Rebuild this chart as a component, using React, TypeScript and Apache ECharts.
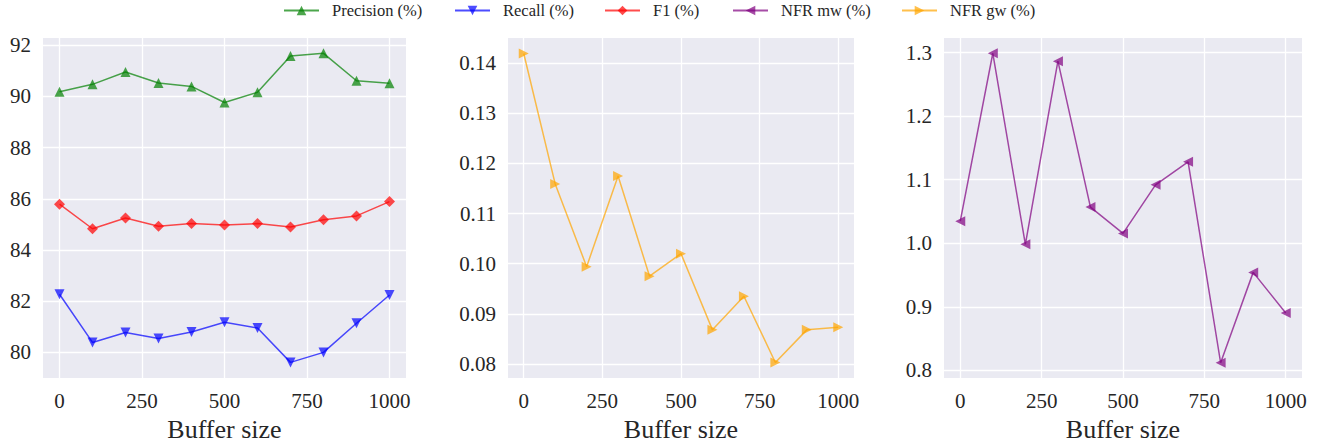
import React, { useEffect, useRef } from "react";
import * as echarts from "echarts";

const bufferSizes = [0, 100, 200, 300, 400, 500, 600, 700, 800, 900, 1000];
const precision = [90.18, 90.47, 90.95, 90.52, 90.39, 89.76, 90.16, 91.58, 91.68, 90.61, 90.51];
const recall = [82.27, 80.39, 80.78, 80.54, 80.8, 81.18, 80.95, 79.61, 80.0, 81.14, 82.24];
const f1 = [85.79, 84.83, 85.25, 84.93, 85.03, 84.98, 85.03, 84.9, 85.18, 85.33, 85.89];
const nfrGw = [0.1419, 0.1159, 0.0994, 0.1175, 0.0975, 0.102, 0.0868, 0.0935, 0.0803, 0.0868, 0.0873];
const nfrMw = [1.0347, 1.299, 0.9983, 1.2865, 1.057, 1.0155, 1.0919, 1.1281, 0.812, 0.9542, 0.8903];

const xTicks = [0, 250, 500, 750, 1000];
const yTicks1 = [80, 82, 84, 86, 88, 90, 92];
const yTicks2 = [0.08, 0.09, 0.1, 0.11, 0.12, 0.13, 0.14];
const yTicks3 = [0.8, 0.9, 1.0, 1.1, 1.2, 1.3];

const FONT = "Liberation Serif";
const TXT = "#262626";

const SYM_UP = "path://M0,10L5,0L10,10Z";
const SYM_DOWN = "path://M0,0L10,0L5,10Z";
const SYM_LEFT = "path://M10,0L10,10L0,5Z";
const SYM_RIGHT = "path://M0,0L0,10L10,5Z";

const pairs = (ys: number[]) => bufferSizes.map((x, i) => [x, ys[i]]);

export default function App() {
  const ref = useRef<HTMLDivElement>(null);
  useEffect(() => {
    document.body.style.margin = "0";
    const chart = echarts.init(ref.current!, null, { renderer: "svg" });
    const grids = [
      { left: 43, top: 38, width: 363, height: 341 },
      { left: 508, top: 38, width: 346, height: 342 },
      { left: 944, top: 38, width: 358, height: 342 },
    ];
    const xAxis = grids.map((_, i) => ({
      type: "value",
      gridIndex: i,
      min: -50,
      max: 1050,
      name: "Buffer size",
      nameLocation: "middle",
      nameGap: 38,
      nameTextStyle: { fontFamily: FONT, fontSize: 26, color: TXT },
      axisLine: { show: false },
      axisTick: { show: false },
      axisLabel: { show: false },
      splitLine: { show: false },
    }));
    const yCfg = [
      { min: 79.0, max: 92.28, ticks: yTicks1, fmt: (v: number) => v.toFixed(0) },
      { min: 0.0772, max: 0.145, ticks: yTicks2, fmt: (v: number) => v.toFixed(2) },
      { min: 0.788, max: 1.323, ticks: yTicks3, fmt: (v: number) => v.toFixed(1) },
    ];
    const yAxis = yCfg.map((c, i) => ({
      type: "value",
      gridIndex: i,
      min: c.min,
      max: c.max,
      axisLine: { show: false },
      axisTick: { show: false },
      axisLabel: { show: false },
      splitLine: { show: false },
    }));
    const tickText = { show: true, position: "start", fontFamily: FONT, fontSize: 21, color: TXT };
    const gridLineSeries = yCfg.map((c, i) => ({
      name: "_grid" + i,
      type: "line",
      xAxisIndex: i,
      yAxisIndex: i,
      data: [],
      silent: true,
      markLine: {
        silent: true,
        symbol: "none",
        z: 1,
        animation: false,
        lineStyle: { color: "#ffffff", width: 1.3, type: "solid" },
        label: tickText,
        emphasis: { disabled: true },
        data: [
          ...xTicks.map((x) => ({
            xAxis: x,
            label: { ...tickText, distance: 12, formatter: () => String(x) },
          })),
          ...c.ticks.map((y) => ({
            yAxis: y,
            label: { ...tickText, distance: 12, formatter: () => c.fmt(y) },
          })),
        ],
      },
    }));
    const mk = (name: string, data: number[], color: string, symbol: string, idx: number, size = 10) => ({
      name,
      type: "line",
      xAxisIndex: idx,
      yAxisIndex: idx,
      data: pairs(data),
      symbol,
      symbolSize: size,
      showSymbol: true,
      z: 3,
      lineStyle: { color, width: 1.5 },
      itemStyle: { color },
    });
    const legendNames = ["Precision (%)", "Recall (%)", "F1 (%)", "NFR mw (%)", "NFR gw (%)"];
    const legendLeft = [283, 454, 604, 732, 901];
    chart.setOption({
      animation: false,
      backgroundColor: "#ffffff",
      grid: grids.map((g) => ({ ...g, backgroundColor: "#EAEAF2", show: true, borderWidth: 0 })),
      legend: legendNames.map((n, i) => ({
        data: [n],
        left: legendLeft[i],
        top: 2,
        itemWidth: 35,
        itemHeight: 12,
        padding: 0,
        textStyle: { fontFamily: FONT, fontSize: 16.5, color: TXT, padding: [0, 0, 0, 8] },
      })),
      xAxis,
      yAxis,
      series: [
        ...gridLineSeries,
        mk("Precision (%)", precision, "rgba(0,128,0,0.7)", SYM_UP, 0),
        mk("Recall (%)", recall, "rgba(0,0,255,0.7)", SYM_DOWN, 0),
        mk("F1 (%)", f1, "rgba(255,0,0,0.7)", "diamond", 0, 11),
        mk("NFR gw (%)", nfrGw, "rgba(255,165,0,0.7)", SYM_RIGHT, 1),
        mk("NFR mw (%)", nfrMw, "rgba(128,0,128,0.7)", SYM_LEFT, 2),
      ],
    });
    return () => chart.dispose();
  }, []);
  return <div ref={ref} style={{ width: 1332, height: 447 }} />;
}
